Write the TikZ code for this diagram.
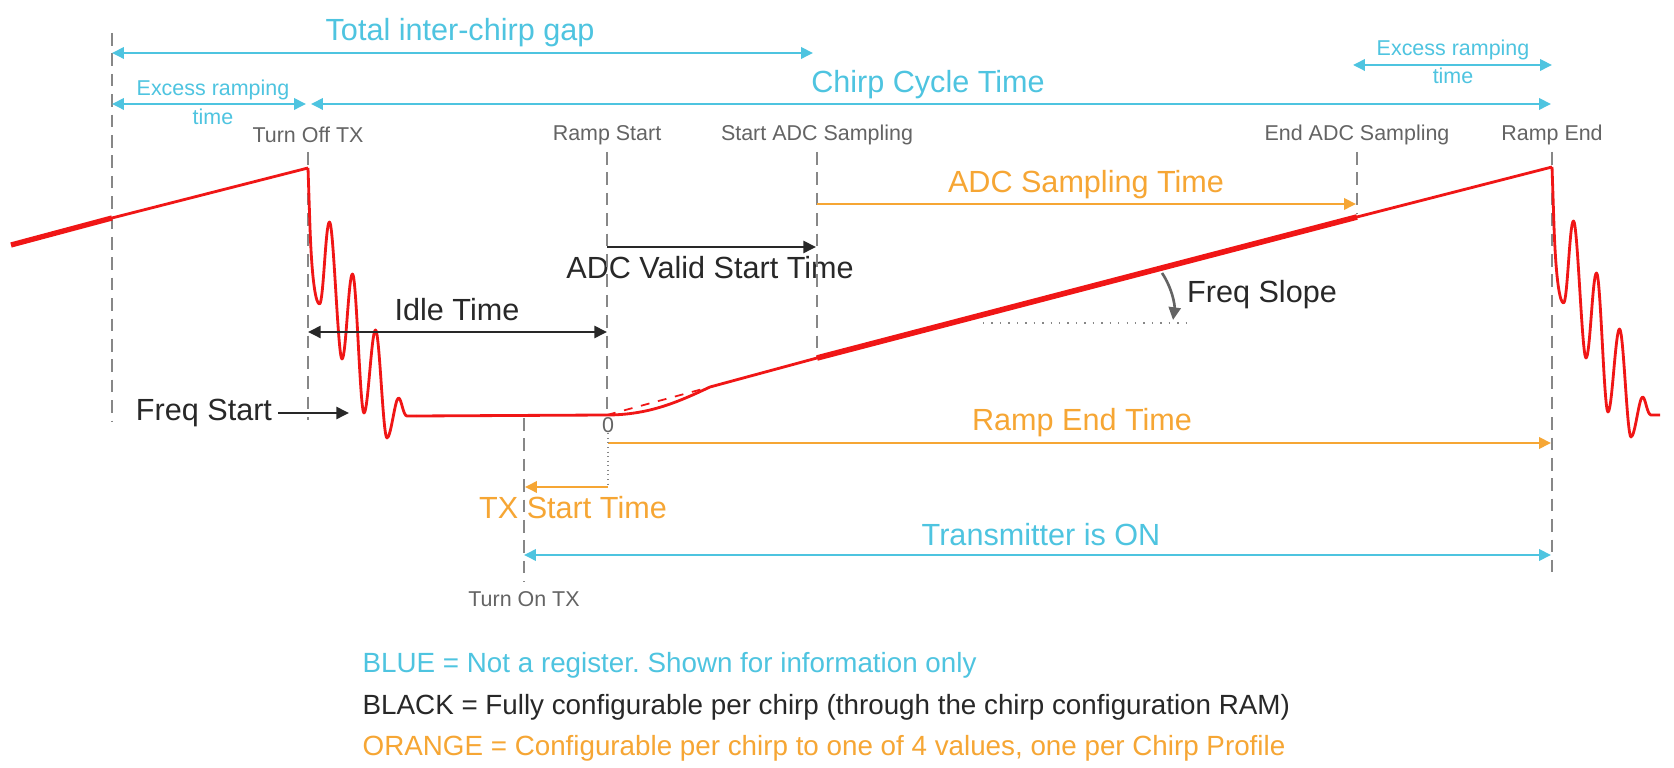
\documentclass[tikz,border=0pt]{standalone}
\usepackage{fontspec}
\setmainfont{Liberation Sans}
\usetikzlibrary{arrows.meta}
\definecolor{sigred}{RGB}{240,22,22}
\definecolor{infoblue}{RGB}{78,196,224}
\definecolor{cfgorange}{RGB}{246,166,52}
\definecolor{mgray}{RGB}{135,135,135}
\definecolor{lgray}{RGB}{100,100,100}
\definecolor{txtblack}{RGB}{40,40,40}
\frenchspacing
\tikzset{ringing/.pic={
  \draw[sig] (0,0) -- (2,60) .. controls (4,115) and (8,136) .. (11.5,136)
    .. controls (15.5,136) and (17.5,54) .. (21.5,54)
    .. controls (25.5,54) and (30,191) .. (34,191)
    .. controls (38,191) and (40.5,106) .. (44.5,106)
    .. controls (48.5,106) and (52,245) .. (56,245)
    .. controls (60,245) and (63.5,162) .. (67.5,162)
    .. controls (71.5,162) and (75,270) .. (79,270)
    .. controls (83,270) and (87,230) .. (90.5,230)
    .. controls (93.5,230) and (95,248) .. (99,248) -- (108,248);
}}
\begin{document}
\begin{tikzpicture}[x=0.01cm, y=-0.01cm,
    sig/.style={draw=sigred, line width=0.8pt, line join=round},
    marker/.style={draw=mgray, line width=0.6pt, dash pattern=on 3.6pt off 2.2pt},
    big/.style={inner sep=0, font=\fontsize{8.7}{10}\selectfont},
    small/.style={inner sep=0, font=\fontsize{6.1}{7}\selectfont},
    legend/.style={inner sep=0, anchor=west, font=\fontsize{7.9}{9}\selectfont},
    blue2/.style={draw=infoblue, line width=0.75pt, {Triangle[length=3.4pt,width=3.2pt]}-{Triangle[length=3.4pt,width=3.2pt]}},
    black1/.style={draw=txtblack, line width=0.75pt, -{Triangle[length=3.6pt,width=3.4pt]}},
    black2/.style={draw=txtblack, line width=0.75pt, {Triangle[length=3.6pt,width=3.4pt]}-{Triangle[length=3.6pt,width=3.4pt]}},
    orange1/.style={draw=cfgorange, line width=0.75pt, -{Triangle[length=3.4pt,width=3.2pt]}}]
  \useasboundingbox[fill=white] (0,0) rectangle (1674,768);
  % time markers
  \coordinate (pre0) at (112,33);   \coordinate (pre1) at (112,422);
  \coordinate (off0) at (308,152);  \coordinate (off1) at (308,420);
  \coordinate (rs0) at (607,152);   \coordinate (rs1) at (607,415);
  \coordinate (sa0) at (817,152);   \coordinate (sa1) at (817,357);
  \coordinate (ea0) at (1357,152);  \coordinate (ea1) at (1357,214);
  \coordinate (re0) at (1552,152);  \coordinate (re1) at (1552,572);
  \coordinate (on0) at (524,418);   \coordinate (on1) at (524,582);
  % labels
  \node[small, lgray] (loff) at (308,135){Turn Off TX};
  \node[small, lgray] (lrs) at (607,135){Ramp Start};
  \node[small, lgray] (lsa) at (817,135){Start ADC Sampling};
  \node[small, lgray] (lea) at (1357,135){End ADC Sampling};
  \node[small, lgray] (lre) at (1552,135){Ramp End};
  \node[small, lgray] (lon) at (524,599){Turn On TX};
  \node[small, lgray] (zero) at (608,425){0};
  \node[big, infoblue] (tgap) at (460,33){Total inter-chirp gap};
  \node[big, infoblue] (cct) at (928,85){Chirp Cycle Time};
  \node[small, infoblue] (exl) at (213,90){Excess ramping};
  \node[small, infoblue] (exlt) at (213,117){time};
  \node[small, infoblue] (exr) at (1453,50){Excess ramping};
  \node[small, infoblue] (exrt) at (1453,76){time};
  \node[big, cfgorange] (adcst) at (1086,185){ADC Sampling Time};
  \node[big, txtblack] (adcv) at (710,268){ADC Valid Start Time};
  \node[big, txtblack] (idle) at (457,310){Idle Time};
  \node[big, txtblack] (fstart) at (204,413){Freq Start};
  \node[big, txtblack] (fslope) at (1262,295){Freq Slope};
  \node[big, cfgorange] (ret) at (1082,423){Ramp End Time};
  \node[big, cfgorange] (txst) at (573,508){TX Start Time};
  \node[big, infoblue] (txon) at (1041,535){Transmitter is ON};
  % dashed markers
  \draw[marker](pre0) -- (pre1);
  \draw[marker](off0) -- (off1);
  \draw[marker](rs0) -- (rs1);
  \draw[marker](sa0) -- (sa1);
  \draw[marker](ea0) -- (ea1);
  \draw[marker](re0) -- (re1);
  \draw[marker](on0) -- (on1);
  % chirp
  \coordinate (c0) at (11,245);
  \coordinate (c1) at (112,218);
  \coordinate (c2) at (308,168);
  \coordinate (c3) at (416,416);
  \coordinate (c4) at (607,415);
  \coordinate (c5) at (710,387);
  \coordinate (c6) at (817,358);
  \coordinate (c7) at (1357,217);
  \coordinate (c8) at (1552,167);
  \draw[sig, line width=1.5pt](c0) -- (c1);
  \draw[sig](c1) -- (c2);
  \pic at (c2) {ringing};
  \draw[sig](c3) -- (c4) .. controls (650,415) and (680,401) .. (c5) -- (c6);
  \draw[sigred, line width=0.5pt, dash pattern=on 2.5pt off 2.5pt](c4) -- (c5);
  \draw[sig, line width=1.6pt](c6) -- (c7);
  \draw[sig](c7) -- (c8);
  \pic at (c8) {ringing};
  % slope
  \coordinate (fs0) at (983,323);
  \coordinate (fs1) at (1190,323);
  \coordinate (fa0) at (1162,273);
  \coordinate (fa1) at (1173,320);
  \draw[mgray, line width=0.4pt, dotted](fs0) -- (fs1);
  \draw[black1, draw=lgray](fa0) .. controls (1172,288) and (1175,305) .. (fa1);
  % blue spans
  \coordinate (tg0) at (112,53);   \coordinate (tg1) at (813,53);
  \coordinate (el0) at (112,104);  \coordinate (el1) at (306,104);
  \coordinate (cc0) at (311,104);  \coordinate (cc1) at (1551,104);
  \coordinate (er0) at (1353,65);  \coordinate (er1) at (1552,65);
  \coordinate (tx0) at (524,555);  \coordinate (tx1) at (1551,555);
  \draw[blue2](tg0) -- (tg1);
  \draw[blue2](el0) -- (el1);
  \draw[blue2](cc0) -- (cc1);
  \draw[blue2](er0) -- (er1);
  \draw[blue2](tx0) -- (tx1);
  % black spans
  \coordinate (av0) at (607,247);  \coordinate (av1) at (816,247);
  \coordinate (it0) at (308,332);  \coordinate (it1) at (607,332);
  \coordinate (fq0) at (278,413);  \coordinate (fq1) at (349,413);
  \draw[black1](av0) -- (av1);
  \draw[black2](it0) -- (it1);
  \draw[black1](fq0) -- (fq1);
  % orange spans
  \coordinate (as0) at (817,204);  \coordinate (as1) at (1356,204);
  \coordinate (rt0) at (608,443);  \coordinate (rt1) at (1551,443);
  \coordinate (ts0) at (608,487);  \coordinate (ts1) at (525,487);
  \draw[orange1](as0) -- (as1);
  \draw[orange1](rt0) -- (rt1);
  \draw[orange1](ts0) -- (ts1);
  \draw[mgray, line width=0.3pt, densely dotted](zero) -- (ts0);
  % legend
  \node[legend, infoblue] (lg0) at (362,665){BLUE = Not a register. Shown for information only};
  \node[legend, txtblack] (lg1) at (362,707){BLACK = Fully configurable per chirp (through the chirp configuration RAM)};
  \node[legend, cfgorange] (lg2) at (362,748){ORANGE = Configurable per chirp to one of 4 values, one per Chirp Profile};
\end{tikzpicture}
\end{document}
